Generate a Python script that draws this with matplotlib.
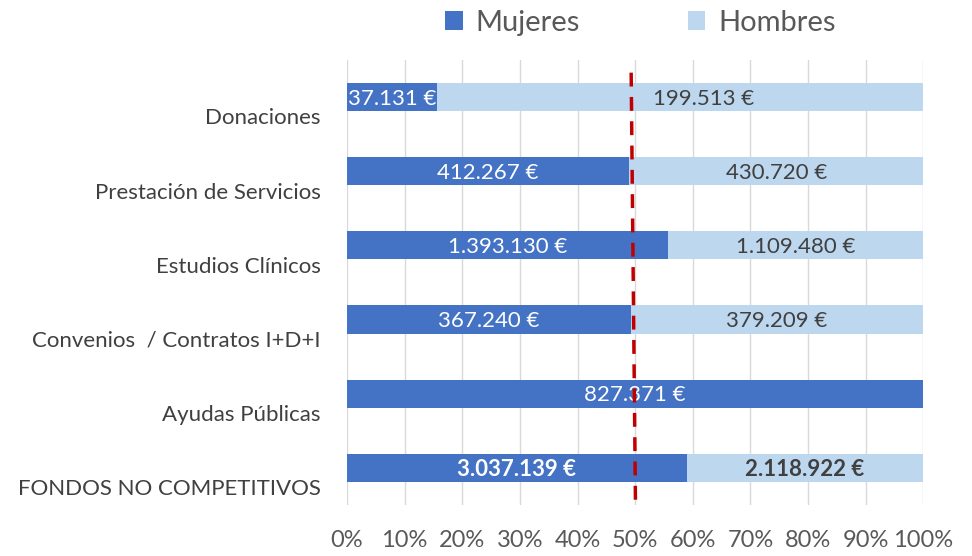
import matplotlib
matplotlib.use("Agg")
import matplotlib.pyplot as plt
import numpy as np

plt.rcParams['font.family'] = ['Lato', 'DejaVu Sans']

categories = ['FONDOS NO COMPETITIVOS', 'Ayudas Públicas', 'Convenios  / Contratos I+D+I',
              'Estudios Clínicos', 'Prestación de Servicios', 'Donaciones']
mujeres = [3037139, 827371, 367240, 1393130, 412267, 37131]
hombres = [2118922, 0, 379209, 1109480, 430720, 199513]
ticks = [0, 10, 20, 30, 40, 50, 60, 70, 80, 90, 100]

c_muj = '#4472C4'
c_hom = '#BDD7EE'
grey = '#595959'


def euro(v):
    return f"{v:,}".replace(',', '.') + ' €'


muj = np.array(mujeres, dtype=float)
hom = np.array(hombres, dtype=float)
tot = muj + hom
p_muj = muj / tot * 100
p_hom = hom / tot * 100
y = np.arange(len(categories))

fig = plt.figure(figsize=(9.72, 5.56), dpi=100)
ax = fig.add_axes([0.357, 0.092, 0.593, 0.8])

ax.barh(y, p_muj, height=0.38, color=c_muj, label='Mujeres', zorder=2)
ax.barh(y, p_hom, left=p_muj, height=0.38, color=c_hom, label='Hombres', zorder=2)

# the Donaciones 'Hombres' label was dragged right in the original
hom_nudge = {5: 4}

for i in range(len(categories)):
    bold = 'bold' if i == 0 else 'normal'
    if mujeres[i] > 0:
        ax.text(p_muj[i] / 2, y[i] - 0.02, euro(mujeres[i]), ha='center', va='center',
                color='white', fontsize=16, fontweight=bold, zorder=3)
    if hombres[i] > 0:
        ax.text(p_muj[i] + p_hom[i] / 2 + hom_nudge.get(i, 0), y[i] - 0.02, euro(hombres[i]),
                ha='center', va='center', color='#404040', fontsize=16, fontweight=bold, zorder=3)

# dashed 50% reference line (slightly slanted as in the original)
ax.plot([49.3, 50.05], [5.33, -0.5], color='#C00000', lw=2.5, ls=(0, (4, 3)), zorder=4)

ax.set_xlim(0, 100)
ax.set_ylim(-0.5, 5.5)
ax.set_xticks(ticks)
ax.set_xticklabels([f'{t}%' for t in ticks], fontsize=17, color=grey)
# category labels sit a bit below their bars, like in the original
ax.set_yticks(y - 0.26)
ax.set_yticklabels(categories, fontsize=16, color='#404040')
ax.tick_params(axis='both', length=0)
ax.tick_params(axis='x', pad=18)
ax.tick_params(axis='y', pad=19)
ax.grid(axis='x', color='#D9D9D9', lw=1, zorder=0)
ax.grid(axis='y', visible=False)
ax.set_axisbelow(True)
for s in ax.spines.values():
    s.set_visible(False)

leg = fig.legend(loc='upper center', bbox_to_anchor=(0.659, 1.03), ncol=2, frameon=False,
                 fontsize=21, handlelength=0.6, handleheight=0.6, columnspacing=3.7,
                 handletextpad=0.45)
for t in leg.get_texts():
    t.set_color(grey)

fig.savefig('out.png', dpi=100)
